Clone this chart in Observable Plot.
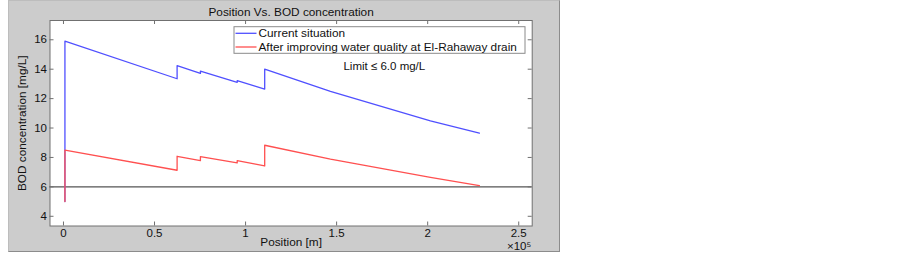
<!DOCTYPE html>
<html>
<head>
<meta charset="utf-8">
<script src="https://cdn.jsdelivr.net/npm/d3@7"></script>
<script src="https://cdn.jsdelivr.net/npm/@observablehq/plot@0.6"></script>
<style>
  html, body { margin: 0; padding: 0; background: #ffffff; }
  #wrap { position: relative; width: 902px; height: 253px; font-family: "Liberation Sans", Arial, sans-serif; }
  #panel { position: absolute; left: 8px; top: 0px; width: 552px; height: 252px; background: #cccccc;
           border-right: 1px solid #8c8c8c; border-bottom: 1px solid #8c8c8c; border-left: 1px solid #bdbdbd; border-top: 1px solid #bdbdbd; box-sizing: border-box; }
  #chart { position: absolute; left: 0; top: 0; }
  svg { background: transparent !important; }
</style>
</head>
<body>
<div id="wrap"><div id="panel"></div><div id="chart"></div></div>
<script>
// ---- Data (position in units of 1e5 m) ----
const position = [0.008, 0.008, 0.624, 0.624, 0.752, 0.752, 0.954, 0.954, 1.105, 1.105, 1.466, 2.015, 2.284];
const bodCurrent = [5.0, 15.9, 13.35, 14.24, 13.71, 13.87, 13.10, 13.22, 12.65, 14.01, 12.49, 10.48, 9.65];
const bodImproved = [5.0, 8.5, 7.13, 8.08, 7.79, 8.06, 7.63, 7.79, 7.42, 8.83, 7.88, 6.64, 6.08];
const seriesNames = ["Current situation", "After improving water quality at El-Rahaway drain"];
const limitValue = 6.0;
const limitLabel = [{x: 1.762, y: 14.22, text: "Limit \u2264 6.0 mg/L"}];
const xTicks = [0, 0.5, 1, 1.5, 2, 2.5];
const yTicks = [4, 6, 8, 10, 12, 14, 16];
const titleText = "Position Vs. BOD concentration";
const xLabel = "Position [m]";
const yLabel = "BOD concentration [mg/L]";
const xExponent = "\u00d710\u2075";

const current = position.map((p, i) => ({x: p, y: bodCurrent[i]}));
const improved = position.map((p, i) => ({x: p, y: bodImproved[i]}));

const W = 902, H = 253;
const mL = 49.5, mR = 370.3, mT = 20, mB = 27.5;
const fw = W - mL - mR, fh = H - mT - mB;
const tick = 4;
const axisColor = "#707070";
const blue = "#5050ff", red = "#ff5050";
const fs = 11.5;

const plot = Plot.plot({
  width: W, height: H,
  marginLeft: mL, marginRight: mR, marginTop: mT, marginBottom: mB,
  style: {fontFamily: '"Liberation Sans", Arial, sans-serif', fontSize: fs + "px", color: "#111", background: "transparent"},
  x: {domain: [-0.074, 2.574], axis: null},
  y: {domain: [3.34, 17.31], axis: null},
  marks: [
    Plot.frame({fill: "white", stroke: null}),
    // limit line
    Plot.ruleY([limitValue], {stroke: "#555555", strokeWidth: 1.3}),
    // ticks (inward) on all four sides
    Plot.tickX(xTicks, {x: d => d, insetTop: fh - tick, stroke: axisColor, strokeWidth: 1}),
    Plot.tickX(xTicks, {x: d => d, insetBottom: fh - tick, stroke: axisColor, strokeWidth: 1}),
    Plot.tickY(yTicks, {y: d => d, insetRight: fw - tick, stroke: axisColor, strokeWidth: 1}),
    Plot.tickY(yTicks, {y: d => d, insetLeft: fw - tick, stroke: axisColor, strokeWidth: 1}),
    // series
    Plot.line(current, {x: "x", y: "y", stroke: blue, strokeWidth: 1.3}),
    Plot.line(improved, {x: "x", y: "y", stroke: red, strokeWidth: 1.3}),
    Plot.frame({stroke: axisColor, strokeWidth: 1}),
    // tick labels
    Plot.axisX(xTicks, {anchor: "bottom", tickSize: 0, tickPadding: 3, label: null, tickFormat: d => String(d), fontSize: fs, fill: "#111"}),
    Plot.axisY(yTicks, {anchor: "left", tickSize: 0, tickPadding: 3, label: null, tickFormat: d => String(d), fontSize: fs, fill: "#111"}),
    // annotation
    Plot.text(limitLabel, {x: "x", y: "y", text: "text", fontSize: fs, fill: "#111", textAnchor: "middle"}),
    // title and labels
    Plot.text([titleText], {frameAnchor: "top", lineAnchor: "top", dy: -13, fontSize: fs + 0.3, fill: "#111"}),
    Plot.text([xLabel], {frameAnchor: "bottom", lineAnchor: "bottom", dy: 20, fontSize: fs + 0.3, fill: "#111"}),
    Plot.text([xExponent], {frameAnchor: "bottom-right", lineAnchor: "bottom", dy: 23.5, dx: -1, textAnchor: "end", fontSize: fs, fill: "#111"}),
    Plot.text([yLabel], {frameAnchor: "left", dx: -27.5, rotate: -90, textAnchor: "middle", fontSize: fs + 0.3, fill: "#111"})
  ]
});

document.getElementById("chart").appendChild(plot);

// legend box (drawn into the plot svg)
const svg = d3.select(plot);
const lg = svg.append("g").attr("font-family", '"Liberation Sans", Arial, sans-serif').attr("font-size", (fs + 0.3) + "px").attr("text-anchor", "start");
const lx = 234, ly = 26.7, lw = 291, lh = 26.6;
lg.append("rect").attr("x", lx).attr("y", ly).attr("width", lw).attr("height", lh)
  .attr("fill", "white").attr("stroke", "#8a8a8a").attr("stroke-width", 1);
[blue, red].forEach((c, i) => {
  const cy = ly + 6.6 + i * 13.7;
  lg.append("line").attr("x1", lx + 1.5).attr("x2", lx + 22.5).attr("y1", cy).attr("y2", cy)
    .attr("stroke", c).attr("stroke-width", 1.3);
  lg.append("text").attr("x", lx + 24.5).attr("y", cy).attr("dy", "0.35em").attr("text-anchor", "start").attr("fill", "#111").text(seriesNames[i]);
});
</script>
</body>
</html>
